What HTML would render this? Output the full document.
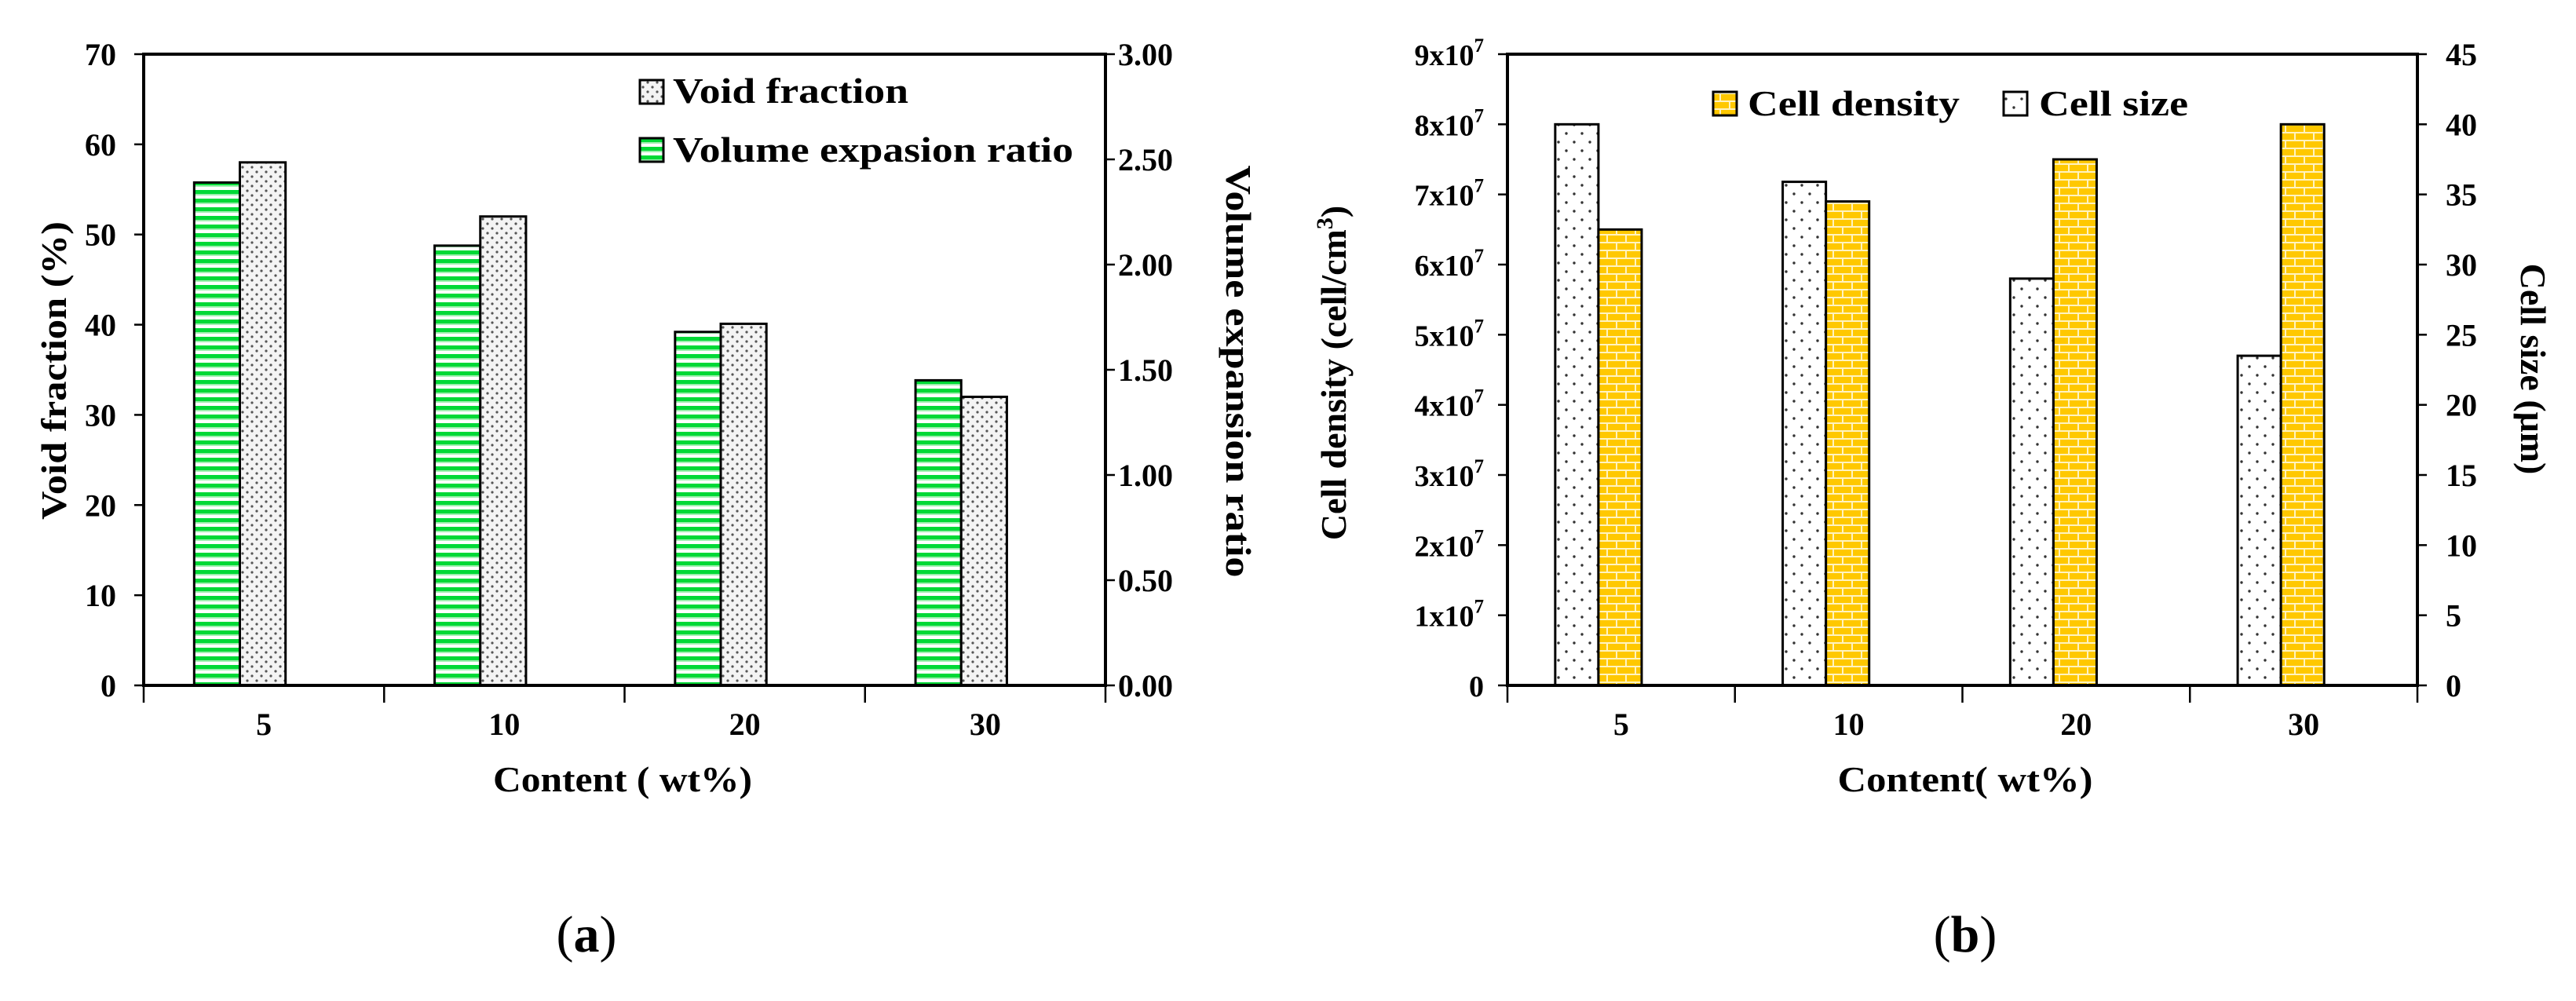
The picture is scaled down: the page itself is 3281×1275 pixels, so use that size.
<!DOCTYPE html>
<html><head><meta charset="utf-8"><style>
html,body{margin:0;padding:0;background:#fff;}
svg{display:block;font-family:"Liberation Serif",serif;}
</style></head><body>
<svg id="fig" width="3281" height="1275" viewBox="0 0 3281 1275" xmlns="http://www.w3.org/2000/svg">
<defs>
<pattern id="pGreen" patternUnits="userSpaceOnUse" width="20" height="11">
<rect width="20" height="11" fill="#ffffff"/><rect y="0" width="20" height="5" fill="#00d936"/><rect y="5" width="20" height="2" fill="#9ff0b0"/>
</pattern>
<pattern id="pDots" patternUnits="userSpaceOnUse" width="12" height="12">
<rect width="12" height="12" fill="#f4f4f4"/><circle cx="3" cy="3" r="1.6" fill="#555"/><circle cx="9" cy="9" r="1.6" fill="#555"/>
</pattern>
<pattern id="pSparse" patternUnits="userSpaceOnUse" width="20" height="22">
<rect width="20" height="22" fill="#fff"/><circle cx="5" cy="5" r="1.7" fill="#333"/><circle cx="15" cy="16" r="1.7" fill="#333"/>
</pattern>
<pattern id="pBrick" patternUnits="userSpaceOnUse" width="24" height="20">
<rect width="24" height="20" fill="#ffc800"/>
<rect y="8" width="24" height="2" fill="#fff3c0"/><rect y="18" width="24" height="2" fill="#fff3c0"/>
<rect x="6" y="0" width="2" height="8" fill="#fff3c0"/><rect x="18" y="10" width="2" height="8" fill="#fff3c0"/>
</pattern>
</defs>
<g id="chartA"></g>
<g id="chartB"></g>
<text x="747" y="1212" font-size="66" text-anchor="middle">(<tspan font-weight="bold">a</tspan>)</text>
<text x="2503" y="1212" font-size="66" text-anchor="middle">(<tspan font-weight="bold">b</tspan>)</text>
</svg>
<script>
const categoriesA = ["5","10","20","30"];
const volumeRatio = [2.39, 2.09, 1.68, 1.45];
const voidFraction = [58, 52, 40.1, 32];
const leftTicksA = ["0","10","20","30","40","50","60","70"];
const rightTicksA = ["0.00","0.50","1.00","1.50","2.00","2.50","3.00"];

const categoriesB = ["5","10","20","30"];
const cellSize = [40, 35.9, 29, 23.5];
const cellDensity = [6.5e7, 6.9e7, 7.5e7, 8.0e7];
const leftTicksB = ["0","1","2","3","4","5","6","7","8","9"];
const rightTicksB = ["0","5","10","15","20","25","30","35","40","45"];

const NS="http://www.w3.org/2000/svg";
function el(parent,tag,attrs,text){const e=document.createElementNS(NS,tag);for(const k in attrs)e.setAttribute(k,attrs[k]);if(text!==undefined)e.textContent=text;parent.appendChild(e);return e;}

function frame(g,L,R,T,B,n){
  let f=el(g,'rect',{x:L,y:T,width:R-L,height:B-T,fill:'none',stroke:'#000','stroke-width':4});
  
  
  for(let i=0;i<=n;i++){const x=L+(R-L)*i/n;
    let t=el(g,'line',{x1:x,y1:B,x2:x,y2:B+22,stroke:'#000','stroke-width':2.5});
    
    }
}

function drawA(){
  const g=document.getElementById('chartA');
  const L=183,R=1408,T=69,B=873;
  const yL=v=>B-(v/70)*(B-T), yR=v=>B-(v/3)*(B-T);
  const sp=(R-L)/categoriesA.length;
  const xBand=i=>L+i*sp;
  categoriesA.forEach((c,i)=>{
    const x0=xBand(i)+0.21*sp, w=0.19*sp;
    let b1=el(g,'rect',{x:x0,y:yR(volumeRatio[i]),width:w,height:B-yR(volumeRatio[i]),fill:'url(#pGreen)',stroke:'#000','stroke-width':3});
    
    
    let b2=el(g,'rect',{x:x0+w,y:yL(voidFraction[i]),width:w,height:B-yL(voidFraction[i]),fill:'url(#pDots)',stroke:'#000','stroke-width':3});
    
    
    let t=el(g,'text',{x:xBand(i)+sp/2,y:936,'font-size':40,'font-weight':'bold','text-anchor':'middle'},c);
    
    
  });
  frame(g,L,R,T,B,categoriesA.length);
  leftTicksA.forEach((s,i)=>{const v=i*10,y=yL(v);
    el(g,'line',{x1:L-12,y1:y,x2:L,y2:y,stroke:'#000','stroke-width':2.5});
    let t=el(g,'text',{x:L-35,y:y+14,'font-size':40,'font-weight':'bold','text-anchor':'end'},s);
    
    });
  rightTicksA.forEach((s,i)=>{const v=i*0.5,y=yR(v);
    el(g,'line',{x1:R,y1:y,x2:R+12,y2:y,stroke:'#000','stroke-width':2.5});
    let t=el(g,'text',{x:R+16,y:y+14,'font-size':40,'font-weight':'bold'},s);
    
    });
  let yt=el(g,'text',{x:0,y:0,'font-size':46,'font-weight':'bold','text-anchor':'middle',transform:'translate(84,472) rotate(-90)',textLength:380,lengthAdjust:'spacingAndGlyphs'},'Void fraction (%)');
  
  
  let yr=el(g,'text',{x:0,y:0,'font-size':46,'font-weight':'bold','text-anchor':'middle',transform:'translate(1562,473) rotate(90)',textLength:525,lengthAdjust:'spacingAndGlyphs'},'Volume expansion ratio');
  
  
  let xt=el(g,'text',{x:793,y:1008,'font-size':46,'font-weight':'bold','text-anchor':'middle',textLength:330,lengthAdjust:'spacingAndGlyphs'},'Content ( wt%)');
  
  
  let lg=el(g,'g',{});
  
  
  el(lg,'rect',{x:815,y:102,width:30,height:30,fill:'url(#pDots)',stroke:'#000','stroke-width':3});
  let l1=el(lg,'text',{x:857,y:131,'font-size':46,'font-weight':'bold',textLength:300,lengthAdjust:'spacingAndGlyphs'},'Void fraction');
  
  
  el(lg,'rect',{x:815,y:176,width:30,height:30,fill:'url(#pGreen)',stroke:'#000','stroke-width':3});
  let l2=el(lg,'text',{x:857,y:206,'font-size':46,'font-weight':'bold',textLength:510,lengthAdjust:'spacingAndGlyphs'},'Volume expasion ratio');
  
  
}

function drawB(){
  const g=document.getElementById('chartB');
  const L=1920,R=3079,T=69,B=873;
  const yL=v=>B-(v/9e7)*(B-T), yR=v=>B-(v/45)*(B-T);
  const sp=(R-L)/categoriesB.length;
  const xBand=i=>L+i*sp;
  categoriesB.forEach((c,i)=>{
    const x0=xBand(i)+0.21*sp, w=0.19*sp;
    let b1=el(g,'rect',{x:x0,y:yR(cellSize[i]),width:w,height:B-yR(cellSize[i]),fill:'url(#pSparse)',stroke:'#000','stroke-width':3});
    
    
    let b2=el(g,'rect',{x:x0+w,y:yL(cellDensity[i]),width:w,height:B-yL(cellDensity[i]),fill:'url(#pBrick)',stroke:'#000','stroke-width':3});
    
    
    let t=el(g,'text',{x:xBand(i)+sp/2,y:936,'font-size':40,'font-weight':'bold','text-anchor':'middle'},c);
    
    
  });
  frame(g,L,R,T,B,categoriesB.length);
  leftTicksB.forEach((s,i)=>{const y=yL(i*1e7);
    el(g,'line',{x1:L-12,y1:y,x2:L,y2:y,stroke:'#000','stroke-width':2.5});
    let t=el(g,'text',{x:L-30,y:y+14,'font-size':38,'font-weight':'bold','text-anchor':'end'});
    
    
    if(s==="0"){t.textContent="0";}
    else{t.textContent=s+"x10";el(t,'tspan',{'font-size':25,dy:-17},"7");}
  });
  rightTicksB.forEach((s,i)=>{const y=yR(i*5);
    el(g,'line',{x1:R,y1:y,x2:R+12,y2:y,stroke:'#000','stroke-width':2.5});
    let t=el(g,'text',{x:R+36,y:y+14,'font-size':40,'font-weight':'bold'},s);
    
    });
  let yt=el(g,'text',{x:0,y:0,'font-size':46,'font-weight':'bold','text-anchor':'middle',transform:'translate(1714,475) rotate(-90)'});
  
  
  yt.textContent='Cell density (cell/cm';
  el(yt,'tspan',{'font-size':30,dy:-17},'3');
  el(yt,'tspan',{dy:17},')');
  let yr=el(g,'text',{x:0,y:0,'font-size':46,'font-weight':'bold','text-anchor':'middle',transform:'translate(3211,470) rotate(90)'},'Cell size (μm)');
  
  
  let xt=el(g,'text',{x:2503,y:1008,'font-size':46,'font-weight':'bold','text-anchor':'middle',textLength:325,lengthAdjust:'spacingAndGlyphs'},'Content( wt%)');
  
  
  let lg=el(g,'g',{});
  
  
  el(lg,'rect',{x:2182,y:117,width:30,height:30,fill:'url(#pBrick)',stroke:'#000','stroke-width':3});
  let l1=el(lg,'text',{x:2226,y:147,'font-size':46,'font-weight':'bold',textLength:270,lengthAdjust:'spacingAndGlyphs'},'Cell density');
  
  
  el(lg,'rect',{x:2552,y:117,width:30,height:30,fill:'url(#pSparse)',stroke:'#000','stroke-width':3});
  let l2=el(lg,'text',{x:2597,y:147,'font-size':46,'font-weight':'bold',textLength:190,lengthAdjust:'spacingAndGlyphs'},'Cell size');
  
  
}
drawA();drawB();
</script>
</body></html>
